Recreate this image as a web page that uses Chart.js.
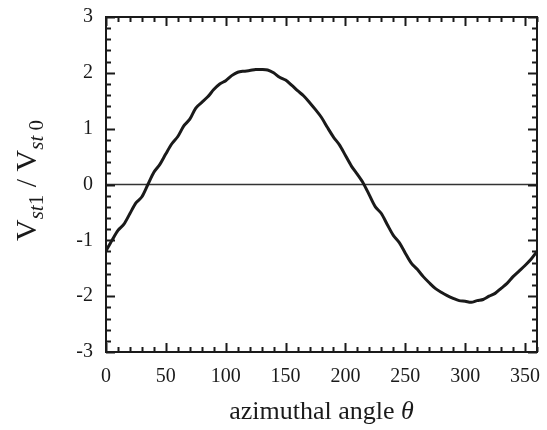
<!DOCTYPE html>
<html>
<head>
<meta charset="utf-8">
<script src="https://cdn.jsdelivr.net/npm/chart.js@4"></script>
<style>
  html, body { margin: 0; padding: 0; background: #fff; }
  #wrap { width: 547px; height: 430px; }
</style>
</head>
<body>
<div id="wrap"><canvas id="vstChart" width="547" height="430"></canvas></div>
<script>
// azimuthal angle (deg) and V_st1 / V_st0
var angles = [0, 5, 10, 15, 20, 25, 30, 35, 40, 45, 50, 55, 60, 65, 70, 75, 80, 85, 90, 95,
  100, 105, 110, 115, 120, 125, 130, 135, 140, 145, 150, 155, 160, 165, 170, 175, 180, 185, 190, 195,
  200, 205, 210, 215, 220, 225, 230, 235, 240, 245, 250, 255, 260, 265, 270, 275, 280, 285, 290, 295,
  300, 305, 310, 315, 320, 325, 330, 335, 340, 345, 350, 355, 360];
var ratio = [-1.19, -1.00, -0.82, -0.71, -0.52, -0.33, -0.22, 0.00, 0.22, 0.36, 0.55, 0.73, 0.86, 1.05, 1.17, 1.37, 1.47, 1.57, 1.70, 1.80,
  1.86, 1.95, 2.01, 2.03, 2.04, 2.06, 2.06, 2.05, 2.00, 1.92, 1.87, 1.78, 1.68, 1.59, 1.47, 1.34, 1.20, 1.02, 0.85, 0.71,
  0.52, 0.33, 0.18, 0.02, -0.19, -0.40, -0.52, -0.72, -0.91, -1.04, -1.23, -1.41, -1.52, -1.65, -1.76, -1.86, -1.93, -1.99, -2.04, -2.08,
  -2.09, -2.11, -2.08, -2.06, -2.00, -1.95, -1.86, -1.77, -1.65, -1.55, -1.45, -1.34, -1.20];
var xTicks = [0, 50, 100, 150, 200, 250, 300, 350];
var yTicks = [-3, -2, -1, 0, 1, 2, 3];

var serif = "'Liberation Serif', 'Times New Roman', Times, serif";
var ink = '#1a1a1a';

// inward ticks on all four sides, frame, and the two axis titles
var frameTicks = {
  id: 'frameTicks',
  afterDatasetsDraw: function(chart) {
    var ctx = chart.ctx;
    var a = chart.chartArea;
    var xs = chart.scales.x, ys = chart.scales.y;
    ctx.save();
    ctx.strokeStyle = ink;
    ctx.lineWidth = 2;
    ctx.beginPath();
    for (var v = 0; v <= 360; v += 10) {
      var px = Math.round(xs.getPixelForValue(v)) + 0.5;
      var len = (v % 50 === 0) ? 9 : 5;
      ctx.moveTo(px, a.bottom); ctx.lineTo(px, a.bottom - len);
      ctx.moveTo(px, a.top); ctx.lineTo(px, a.top + len);
    }
    for (var i = -15; i <= 15; i++) {
      var py = Math.round(ys.getPixelForValue(i / 5)) + 0.5;
      var l2 = (i % 5 === 0) ? 9 : 5;
      ctx.moveTo(a.left, py); ctx.lineTo(a.left + l2, py);
      ctx.moveTo(a.right, py); ctx.lineTo(a.right - l2, py);
    }
    ctx.stroke();
    ctx.lineWidth = 2;
    ctx.strokeRect(a.left, a.top, a.right - a.left, a.bottom - a.top);

    // y title: V_st1 / V_st0
    var parts = [
      { t: 'V', f: '30px ' + serif, dy: 0 },
      { t: 'st', f: 'italic 21px ' + serif, dy: 7 },
      { t: '1', f: '21px ' + serif, dy: 7 },
      { t: ' / ', f: '30px ' + serif, dy: 0 },
      { t: 'V', f: '30px ' + serif, dy: 0 },
      { t: 'st', f: 'italic 21px ' + serif, dy: 7 },
      { t: ' 0', f: '21px ' + serif, dy: 7 }
    ];
    ctx.fillStyle = ink;
    ctx.textBaseline = 'alphabetic';
    ctx.textAlign = 'left';
    var w = 0;
    parts.forEach(function(p) { ctx.font = p.f; p.w = ctx.measureText(p.t).width; w += p.w; });
    ctx.translate(36, (a.top + a.bottom) / 2 - 4);
    ctx.rotate(-Math.PI / 2);
    var x0 = -w / 2;
    parts.forEach(function(p) { ctx.font = p.f; ctx.fillText(p.t, x0, p.dy); x0 += p.w; });
    ctx.restore();

    // x title: azimuthal angle θ
    ctx.save();
    ctx.fillStyle = ink;
    ctx.textBaseline = 'alphabetic';
    ctx.textAlign = 'left';
    var t1 = 'azimuthal angle ', t2 = 'θ';
    ctx.font = '26px ' + serif;
    var w1 = ctx.measureText(t1).width;
    ctx.font = 'italic 26px ' + serif;
    var w2 = ctx.measureText(t2).width;
    var cx = (a.left + a.right) / 2;
    var sx = cx - (w1 + w2) / 2;
    ctx.font = '26px ' + serif;
    ctx.fillText(t1, sx, 419);
    ctx.font = 'italic 26px ' + serif;
    ctx.fillText(t2, sx + w1, 419);
    ctx.restore();
  }
};

var ctx1 = document.getElementById('vstChart').getContext('2d');
var vstChart = new Chart(ctx1, {
  type: 'line',
  data: {
    datasets: [{
      label: 'V_st1 / V_st0',
      data: angles.map(function(a, i) { return { x: a, y: ratio[i] }; }),
      borderColor: ink,
      borderWidth: 3,
      pointRadius: 0,
      tension: 0.3,
      fill: false
    }, {
      label: 'zero',
      data: [{ x: 0, y: 0 }, { x: 360, y: 0 }],
      borderColor: '#333',
      borderWidth: 1.5,
      pointRadius: 0,
      fill: false
    }]
  },
  options: {
    responsive: false,
    animation: false,
    layout: { padding: { left: 0, top: 17, right: 10, bottom: 0 } },
    plugins: { legend: { display: false }, tooltip: { enabled: false } },
    scales: {
      x: {
        type: 'linear',
        min: 0,
        max: 360,
        grid: { display: false, drawTicks: false },
        border: { display: false },
        afterBuildTicks: function(scale) {
          scale.ticks = xTicks.map(function(v) { return { value: v }; });
        },
        afterFit: function(scale) {
          scale.height = 78;
          scale.paddingLeft = 0; scale.paddingRight = 0;
        },
        ticks: { color: ink, padding: 13, maxRotation: 0, font: { family: serif, size: 20 } }
      },
      y: {
        min: -3,
        max: 3,
        grid: { display: false, drawTicks: false },
        border: { display: false },
        afterBuildTicks: function(scale) {
          scale.ticks = yTicks.map(function(v) { return { value: v }; });
        },
        afterFit: function(scale) {
          scale.width = 106;
          scale.paddingTop = 0; scale.paddingBottom = 0;
        },
        ticks: { color: ink, padding: 13, font: { family: serif, size: 20 } }
      }
    }
  },
  plugins: [frameTicks]
});
</script>
</body>
</html>
